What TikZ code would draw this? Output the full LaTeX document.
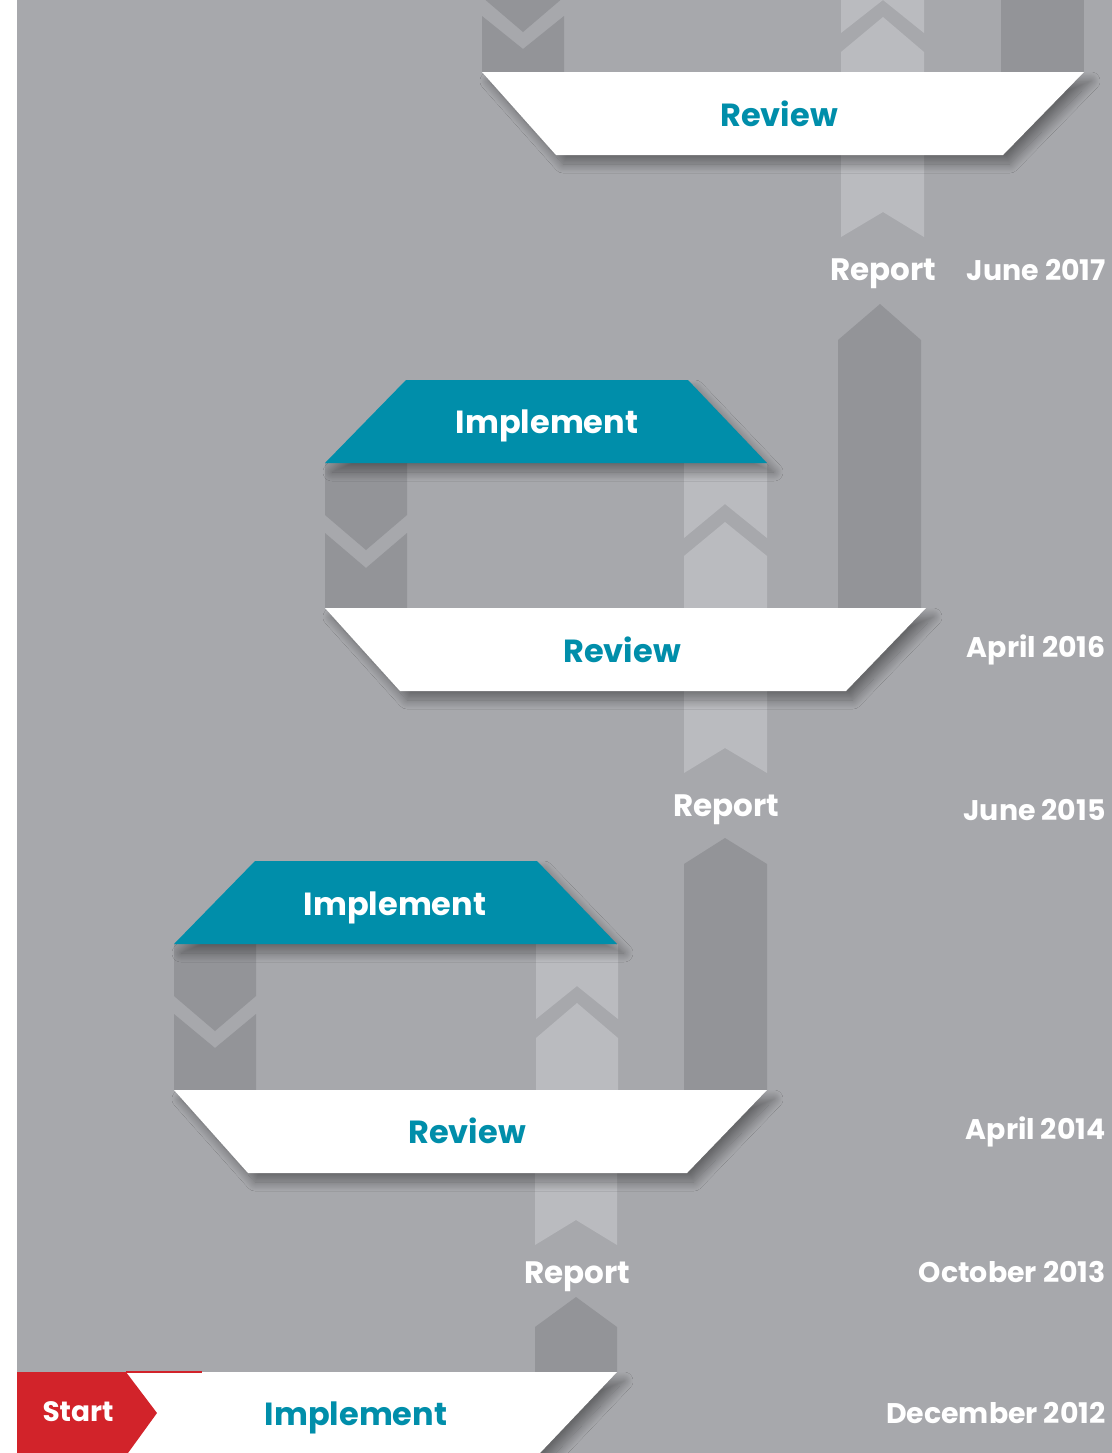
\documentclass[tikz,border=0pt]{standalone}
\usepackage{fontspec}
\setmainfont{Poppins}
\usetikzlibrary{shadows.blur}
\definecolor{bgc}{HTML}{A7A8AC}
\definecolor{darkc}{HTML}{939498}
\definecolor{lightc}{HTML}{BABBBF}
\definecolor{tealc}{HTML}{008EAA}
\definecolor{redc}{HTML}{D2232A}
\tikzset{
  dk/.style={fill=darkc},
  lt/.style={fill=lightc},
  band/.style={blur shadow={shadow xshift=3.5pt, shadow yshift=-4.5pt, shadow blur steps=20, shadow opacity=38, shadow blur radius=4.5pt}},
  reviewband/.style={band, fill=white},
  implband/.style={band, fill=tealc},
  bandtxt/.style={font=\bfseries\fontsize{16}{18}\selectfont, inner sep=0pt},
  rtxt/.style={bandtxt, text=tealc},
  itxt/.style={bandtxt, text=white},
  reptxt/.style={font=\bfseries\fontsize{15.5}{18}\selectfont, text=white, inner sep=0pt},
  datetxt/.style={font=\bfseries\fontsize{14.2}{16}\selectfont, text=white, inner sep=0pt, anchor=east}
}
\begin{document}
\begin{tikzpicture}[x=0.5pt,y=-0.5pt]
\useasboundingbox (0,0) rectangle (1112,1453);
\fill[white] (0,0) rectangle (1112,1453);
\fill[bgc] (17,0) rectangle (1112,1453);
\begin{scope}
\clip (17,0) rectangle (1112,1453);
% ---------- columns, level 4 (top)
\fill[dk] (482,-5) -- (482,-3) -- (523,32) -- (564,-3) -- (564,-5) -- cycle;
\fill[dk] (482,72) -- (482,16) -- (523,49) -- (564,16) -- (564,72) -- cycle;
\fill[lt] (841,0) -- (841,33) -- (883,0) -- (924,33) -- (924,0) -- cycle;
\fill[lt] (841,72) -- (841,52) -- (883,17) -- (924,52) -- (924,72) -- cycle;
\fill[dk] (1001,0) rectangle (1084,72);
\fill[lt] (841,155) -- (841,237) -- (883,212) -- (924,237) -- (924,155) -- cycle;
% ---------- level 3
\fill[dk] (838,608) -- (838,340) -- (880,304) -- (921,340) -- (921,608) -- cycle;
\fill[dk] (325,463) -- (325,515) -- (366,550) -- (407,515) -- (407,463) -- cycle;
\fill[dk] (325,608) -- (325,533) -- (366,568) -- (407,533) -- (407,608) -- cycle;
\fill[lt] (684,463) -- (684,538) -- (725,504) -- (767,538) -- (767,463) -- cycle;
\fill[lt] (684,608) -- (684,556) -- (725,522) -- (767,556) -- (767,608) -- cycle;
\fill[lt] (684,691) -- (684,773) -- (725,748) -- (767,773) -- (767,691) -- cycle;
% ---------- level 2
\fill[dk] (684,1090) -- (684,864) -- (725,838) -- (767,864) -- (767,1090) -- cycle;
\fill[dk] (174,944) -- (174,996) -- (215,1031) -- (256,996) -- (256,944) -- cycle;
\fill[dk] (174,1090) -- (174,1014) -- (215,1048) -- (256,1014) -- (256,1090) -- cycle;
\fill[lt] (536,944) -- (536,1019) -- (577,986) -- (618,1019) -- (618,944) -- cycle;
\fill[lt] (536,1090) -- (536,1038) -- (577,1003) -- (618,1038) -- (618,1090) -- cycle;
\fill[lt] (535,1173) -- (535,1245) -- (576,1220) -- (617,1245) -- (617,1173) -- cycle;
% ---------- level 1
\fill[dk] (535,1372) -- (535,1327) -- (576,1297) -- (617,1327) -- (617,1372) -- cycle;
% ---------- bands
\path[reviewband] (482,72) -- (1084,72) -- (1003,155) -- (556,155) -- cycle;
\path[implband] (325,463) -- (406,380) -- (688,380) -- (767,463) -- cycle;
\path[reviewband] (325,608) -- (926,608) -- (846,691) -- (400,691) -- cycle;
\path[implband] (174,944) -- (255,861) -- (537,861) -- (617,944) -- cycle;
\path[reviewband] (174,1090) -- (767,1090) -- (687,1173) -- (248,1173) -- cycle;
\path[reviewband] (17,1372) -- (617,1372) -- (540,1453) -- (17,1453) -- cycle;
\fill[redc] (126,1371) rectangle (202,1373);
\fill[redc] (17,1372) -- (126,1372) -- (157,1413) -- (128,1453) -- (17,1453) -- cycle;
\end{scope}
% ---------- texts
\node[rtxt] (rev4) at (779,114) {Review};
\node[itxt] (imp3) at (547,426) {Implement};
\node[rtxt] (rev3) at (622,650) {Review};
\node[itxt] (imp2) at (395,908) {Implement};
\node[rtxt] (rev2) at (467,1131) {Review};
\node[rtxt] (imp1) at (356,1418) {Implement};
\node[font=\bfseries\fontsize{14}{16}\selectfont, text=white, inner sep=0pt] (start) at (78,1412) {Start};
\node[reptxt] (rep3) at (883,274) {Report};
\node[reptxt] (rep2) at (726,810) {Report};
\node[reptxt] (rep1) at (577,1277) {Report};
\node[datetxt] (d6) at (1106,270) {June 2017};
\node[datetxt] (d5) at (1106,650) {April 2016};
\node[datetxt] (d4) at (1106,810) {June 2015};
\node[datetxt] (d3) at (1106,1132) {April 2014};
\node[datetxt] (d2) at (1106,1272) {October 2013};
\node[datetxt] (d1) at (1106,1413) {December 2012};
\end{tikzpicture}
\end{document}
